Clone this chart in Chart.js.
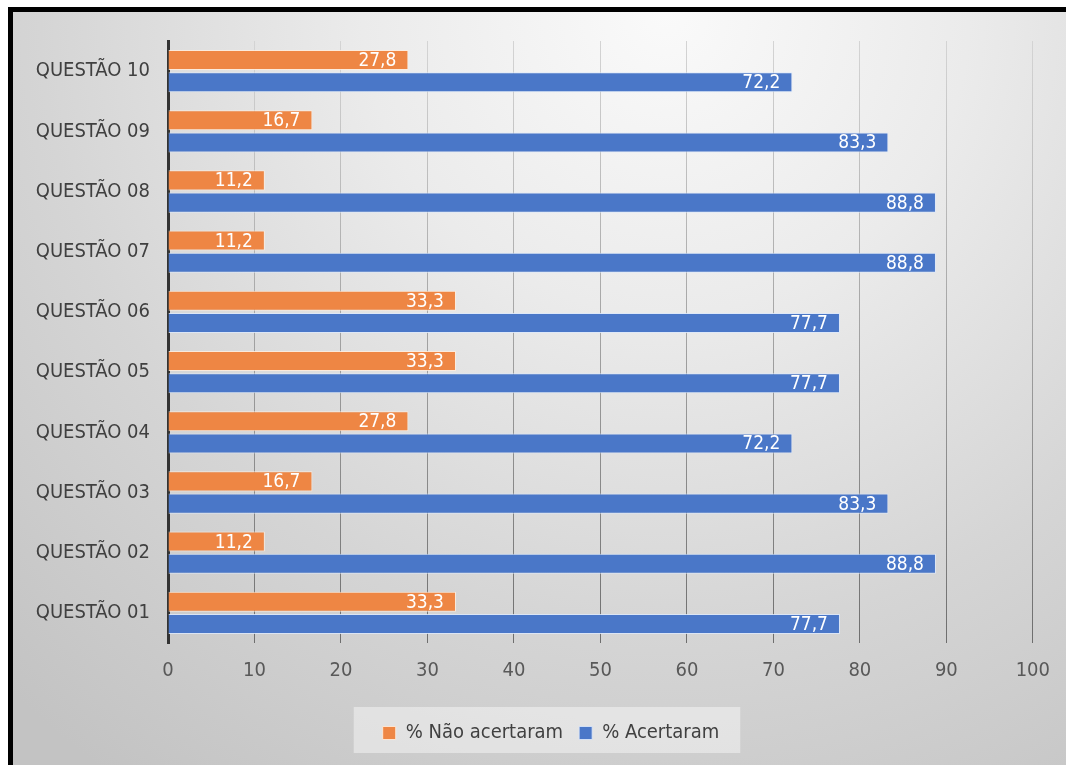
<!DOCTYPE html>
<html>
<head>
<meta charset="utf-8">
<script src="https://cdn.jsdelivr.net/npm/chart.js@4/dist/chart.umd.min.js"></script>
<style>
  html, body { margin: 0; padding: 0; background: #fff; width: 1066px; height: 765px; overflow: hidden; }
  #frame {
    position: absolute; left: 8px; top: 7px; width: 1053px; height: 753px;
    border-top: 5px solid #000; border-left: 5px solid #000;
    background: radial-gradient(ellipse 90% 125% at 62% 0%, #fafafa 0%, #ebebeb 32%, #d5d5d5 66%, #c3c3c3 100%);
  }
  #chart { position: absolute; left: 0; top: 0; }
</style>
</head>
<body>
<div id="frame"></div>
<canvas id="chart" width="1066" height="765"></canvas>
<script>
// Questions, listed top to bottom
const categories = ['QUESTÃO 10', 'QUESTÃO 09', 'QUESTÃO 08', 'QUESTÃO 07', 'QUESTÃO 06',
                    'QUESTÃO 05', 'QUESTÃO 04', 'QUESTÃO 03', 'QUESTÃO 02', 'QUESTÃO 01'];
const naoAcertaram = [27.8, 16.7, 11.2, 11.2, 33.3, 33.3, 27.8, 16.7, 11.2, 33.3];
const acertaram    = [72.2, 83.3, 88.8, 88.8, 77.7, 77.7, 72.2, 83.3, 88.8, 77.7];
const seriesNames  = ['% Não acertaram', '% Acertaram'];
const xTicks = [0, 10, 20, 30, 40, 50, 60, 70, 80, 90, 100];

const FONT = "'Liberation Sans Narrow', 'DejaVu Sans Condensed', 'Arial Narrow', sans-serif";

// White value labels just inside the end of each bar
const valueLabels = {
  id: 'valueLabels',
  afterDatasetsDraw(chart) {
    const ctx = chart.ctx;
    ctx.save();
    ctx.font = '19px ' + FONT;
    ctx.fillStyle = '#ffffff';
    ctx.textAlign = 'right';
    ctx.textBaseline = 'middle';
    chart.data.datasets.forEach((ds, di) => {
      chart.getDatasetMeta(di).data.forEach((bar, i) => {
        const txt = ds.data[i].toFixed(1).replace('.', ',');
        ctx.fillText(txt, bar.x - 12, bar.y + 1);
      });
    });
    ctx.restore();
  }
};

// Shift the legend to the right and paint a pale panel behind it
const legendPanel = {
  id: 'legendPanel',
  afterLayout(chart) {
    const lg = chart.legend;
    lg.left += 33; lg.right += 33;
  },
  beforeDraw(chart) {
    const lg = chart.legend;
    const hb = lg.legendHitBoxes;
    if (!hb || !hb.length) return;
    const last = hb[hb.length - 1];
    const x0 = hb[0].left - 29;
    const x1 = last.left + last.width + 21;
    const ctx = chart.ctx;
    ctx.save();
    ctx.fillStyle = 'rgba(255,255,255,0.42)';
    ctx.fillRect(x0, lg.top, x1 - x0, lg.bottom - lg.top);
    ctx.restore();
  }
};

function gridColor(c) {
  const area = c.chart.chartArea;
  if (!area) return '#999';
  const g = c.chart.ctx.createLinearGradient(0, area.top, 0, area.bottom);
  g.addColorStop(0, '#d4d4d4');
  g.addColorStop(1, '#6e6e6e');
  return g;
}

new Chart(document.getElementById('chart'), {
  type: 'bar',
  data: {
    labels: categories,
    datasets: [
      { label: seriesNames[0], data: naoAcertaram, backgroundColor: '#EE8644',
        borderColor: 'rgba(255,236,220,0.85)', borderWidth: 1,
        barPercentage: 0.9, categoryPercentage: 0.74 },
      { label: seriesNames[1], data: acertaram, backgroundColor: '#4A77C8',
        borderColor: 'rgba(220,232,250,0.85)', borderWidth: 1,
        barPercentage: 0.9, categoryPercentage: 0.74 }
    ]
  },
  options: {
    indexAxis: 'y',
    responsive: false,
    devicePixelRatio: 1,
    animation: false,
    layout: { padding: { top: 41, right: 30, left: 0, bottom: 12 } },
    plugins: {
      legend: {
        position: 'bottom',
        labels: {
          boxWidth: 13, boxHeight: 13, padding: 16,
          color: '#404040',
          font: { family: FONT, size: 20 }
        }
      },
      tooltip: { enabled: false }
    },
    scales: {
      x: {
        min: 0, max: 100,
        afterBuildTicks(s) { s.ticks = xTicks.map(v => ({ value: v })); },
        afterFit(s) { s.height = 64; },
        ticks: { color: '#595959', padding: 16, font: { family: FONT, size: 20 } },
        grid: { color: gridColor, lineWidth: 1, drawTicks: false },
        border: { display: false }
      },
      y: {
        afterFit(s) { s.width = 168; },
        ticks: { color: '#404040', padding: 18, font: { family: FONT, size: 20 } },
        grid: { display: false, drawTicks: false },
        border: { display: true, color: '#333333', width: 3 }
      }
    }
  },
  plugins: [valueLabels, legendPanel]
});
</script>
</body>
</html>
